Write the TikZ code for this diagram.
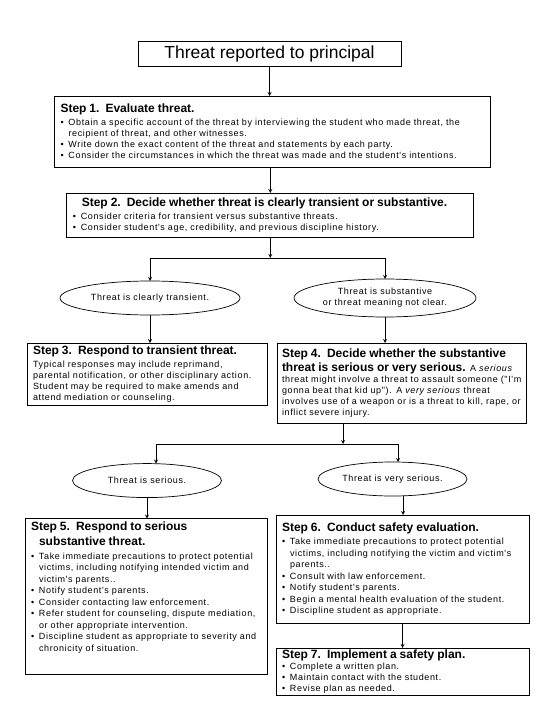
\documentclass[tikz,border=0pt]{standalone}
\usepackage{fontspec}
\setmainfont{Liberation Sans}
\newfontfamily\headfont{Liberation Sans}
\newfontfamily\bodyfont{Liberation Sans}[LetterSpace=7]
\usetikzlibrary{positioning,arrows,shapes.geometric}
\setlength{\parindent}{0pt}
\newcommand{\hd}[1]{{\headfont\bfseries\fontsize{12}{15}\selectfont #1\par}\vspace{2pt}}
\newcommand{\bul}{\par\hangindent=8pt\hangafter=1\leavevmode\makebox[8pt][l]{\textbullet}}

\begin{document}
\begin{tikzpicture}[node distance=26pt, every node/.style={outer sep=0pt},
   stepbox/.style={draw, line width=0.9pt, rectangle, align=left, inner xsep=6pt, inner ysep=3pt, font=\bodyfont\fontsize{9}{11}\selectfont},
   oval/.style={draw, ellipse, line width=0.7pt, align=center, inner sep=0pt, font=\bodyfont\fontsize{9}{11}\selectfont},
   arr/.style={->, >=stealth, line width=0.8pt}]
   \useasboundingbox (0,0) rectangle (540pt,-720pt);
   \node[draw, line width=0.9pt, minimum width=263pt, minimum height=25pt, font=\headfont\fontsize{17.5}{20}\selectfont] (report) at (269.5pt,-53.5pt) {Threat reported to principal};
   \node[stepbox, text width=424pt, minimum height=71pt] (step1) [below=30pt of report, xshift=3pt] {\hd{Step 1.\ \ Evaluate threat.}
      \bul Obtain a specific account of the threat by interviewing the student who made threat, the\newline recipient of threat, and other witnesses.
      \bul Write down the exact content of the threat and statements by each party.
      \bul Consider the circumstances in which the threat was made and the student's intentions.\par};
   \node[stepbox, text width=395pt, minimum height=44pt] (step2) [below=26pt of step1, xshift=-2.2pt] {\hd{\hspace*{9pt}Step 2.\ \ Decide whether threat is clearly transient or substantive.}
      \bul Consider criteria for transient versus substantive threats.
      \bul Consider student's age, credibility, and previous discipline history.\par};
   \coordinate (split1) at ([yshift=-21pt]step2.south);
   \node[oval, minimum width=180pt, minimum height=34pt] (trans) [below=44pt of step2, xshift=-120.3pt] {Threat is clearly transient.};
   \node[oval, minimum width=182pt, minimum height=38pt] (subst) [below=42pt of step2, xshift=114.7pt] {Threat is substantive\\or threat meaning not clear.};
   \node[stepbox, text width=228pt, minimum height=61pt] (step3) [below=28pt of trans, xshift=-3pt] {\hd{Step 3.\ \ Respond to transient threat.}
      Typical responses may include reprimand,\newline parental notification, or other disciplinary action.\newline Student may be required to make amends and\newline attend mediation or counseling.\par};
   \node[stepbox, inner xsep=5pt, text width=239pt, minimum height=80pt] (step4) [below=26pt of subst, xshift=16.5pt] {\hd{Step 4.\ \ Decide whether the substantive}
      {\headfont\bfseries\fontsize{12}{15}\selectfont threat is serious or very serious.} A \textit{serious}\newline threat might involve a threat to assault someone ("I'm\newline gonna beat that kid up"). A \textit{very serious} threat\newline involves use of a weapon or is a threat to kill, rape, or\newline inflict severe injury.\par};
   \coordinate (split2) at ([xshift=-58.5pt,yshift=-21pt]step4.south);
   \node[oval, minimum width=149pt, minimum height=34pt] (serious) [below=58pt of step3] {Threat is serious.};
   \node[oval, minimum width=149pt, minimum height=34pt] (veryser) [below=39pt of step4, xshift=-9pt] {Threat is very serious.};
   \node[stepbox, text width=230pt, minimum height=156pt, font=\bodyfont\fontsize{9}{11.5}\selectfont] (step5) [below=21pt of serious, xshift=-1pt] {\hd{Step 5.\ \ Respond to serious\\\hspace*{8pt}substantive threat.}
      \bul Take immediate precautions to protect potential\newline victims, including notifying intended victim and\newline victim's parents..
      \bul Notify student's parents.
      \bul Consider contacting law enforcement.
      \bul Refer student for counseling, dispute mediation,\newline or other appropriate intervention.
      \bul Discipline student as appropriate to severity and\newline chronicity of situation.\par\kern18pt};
   \node[stepbox, text width=241pt, minimum height=108pt, font=\bodyfont\fontsize{9}{11.5}\selectfont] (step6) [below=19pt of veryser, xshift=10pt] {\hd{Step 6.\ \ Conduct safety evaluation.}
      \bul Take immediate precautions to protect potential\newline victims, including notifying the victim and victim's\newline parents..
      \bul Consult with law enforcement.
      \bul Notify student's parents.
      \bul Begin a mental health evaluation of the student.
      \bul Discipline student as appropriate.\par};
   \node[stepbox, inner ysep=2pt, text width=241pt, minimum height=47pt, font=\bodyfont\fontsize{9}{10.8}\selectfont] (step7) [below=25pt of step6] {{\headfont\bfseries\fontsize{12}{15}\selectfont Step 7.\ \ Implement a safety plan.\par}
      \bul Complete a written plan.
      \bul Maintain contact with the student.
      \bul Revise plan as needed.\par};
    \path[arr]
    (report) edge (report |- step1.north)
    (step1.south -| step2) edge (step2)
    (step2) edge (split1)
    (trans) edge (trans |- step3.north)
    (subst) edge (subst |- step4.north)
    (step4.south -| split2) edge (split2)
    (serious) edge (serious |- step5.north)
    ([xshift=10.5pt]veryser.south) edge ([xshift=10.5pt]veryser.south |- step6.north)
    (step6) edge (step7);
    \draw[arr] (split1) -| (trans);
    \draw[arr] (split1) -| (subst);
    \draw[arr] (split2) -| ([xshift=9pt]serious.north);
    \draw[arr] (split2) -| ([xshift=5.5pt]veryser.north);
\end{tikzpicture}
\end{document}
